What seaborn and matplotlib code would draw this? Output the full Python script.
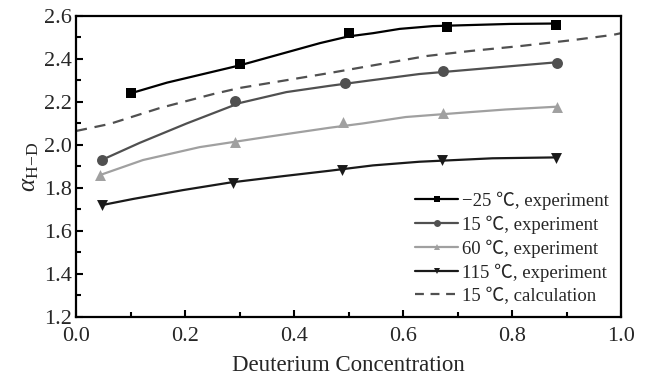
import matplotlib
matplotlib.use("Agg")
import matplotlib.pyplot as plt
from matplotlib.lines import Line2D
from matplotlib.ticker import MultipleLocator
import seaborn as sns
import pandas as pd

# experiment points (markers)
x_m25 = [0.10, 0.30, 0.50, 0.68, 0.88]
y_m25 = [2.24, 2.375, 2.52, 2.55, 2.56]
x_15 = [0.047, 0.292, 0.493, 0.674, 0.882]
y_15 = [1.93, 2.205, 2.29, 2.345, 2.38]
x_60 = [0.044, 0.292, 0.49, 0.673, 0.882]
y_60 = [1.86, 2.014, 2.105, 2.15, 2.178]
x_115 = [0.047, 0.288, 0.488, 0.672, 0.88]
y_115 = [1.72, 1.825, 1.885, 1.93, 1.94]

# fitted curves
cx_m25 = [0.10, 0.167, 0.30, 0.448, 0.50, 0.545, 0.594, 0.655, 0.796, 0.884]
cy_m25 = [2.24, 2.29, 2.37, 2.474, 2.505, 2.52, 2.54, 2.553, 2.563, 2.565]
cx_15 = [0.047, 0.117, 0.203, 0.30, 0.386, 0.465, 0.539, 0.63, 0.722, 0.814, 0.884]
cy_15 = [1.93, 2.01, 2.10, 2.195, 2.246, 2.275, 2.30, 2.33, 2.35, 2.37, 2.385]
cx_60 = [0.044, 0.123, 0.227, 0.349, 0.465, 0.526, 0.605, 0.708, 0.788, 0.882]
cy_60 = [1.86, 1.93, 1.99, 2.037, 2.08, 2.10, 2.13, 2.15, 2.165, 2.178]
cx_115 = [0.047, 0.105, 0.196, 0.282, 0.38, 0.465, 0.545, 0.63, 0.764, 0.877]
cy_115 = [1.72, 1.749, 1.79, 1.825, 1.855, 1.88, 1.905, 1.922, 1.938, 1.942]
cx_calc = [0.0, 0.062, 0.154, 0.252, 0.30, 0.466, 0.558, 0.644, 0.723, 0.815, 0.912, 0.985, 1.0]
cy_calc = [2.065, 2.098, 2.172, 2.237, 2.265, 2.335, 2.376, 2.414, 2.437, 2.46, 2.488, 2.512, 2.52]

labels = ["\u221225 \u2103, experiment", "15 \u2103, experiment", "60 \u2103, experiment",
          "115 \u2103, experiment", "15 \u2103, calculation"]
colors = ["#000000", "#505050", "#a0a0a0", "#1a1a1a", "#505050"]
markers = ["s", "o", "^", "v"]

sns.set_theme(style="ticks")
plt.rcParams['font.family'] = ['Liberation Serif', 'Noto Sans CJK SC', 'DejaVu Serif']
plt.rcParams['mathtext.fontset'] = 'custom'
plt.rcParams['mathtext.rm'] = 'Liberation Serif'
plt.rcParams['mathtext.it'] = 'Liberation Serif:italic'

fig = plt.figure(figsize=(6.53, 3.87), dpi=100)
ax = fig.add_axes([0.1164, 0.181, 0.8346, 0.7777])

curves = [(cx_m25, cy_m25), (cx_15, cy_15), (cx_60, cy_60), (cx_115, cy_115)]
points = [(x_m25, y_m25), (x_15, y_15), (x_60, y_60), (x_115, y_115)]
for (cx, cy), (px, py), c, m in zip(curves, points, colors, markers):
    sns.lineplot(x=cx, y=cy, ax=ax, color=c, lw=1.6, estimator=None, sort=False)
    sns.scatterplot(x=px, y=py, ax=ax, color=c, marker=m, s=62, edgecolor=c, linewidth=0, zorder=3)

sns.lineplot(x=cx_calc, y=cy_calc, ax=ax, color=colors[4], lw=1.6, estimator=None, sort=False)
ax.lines[-1].set_dashes([5, 3.5])

ax.set_xlim(0, 1.0)
ax.set_ylim(1.2, 2.6)
ax.xaxis.set_major_locator(MultipleLocator(0.2))
ax.xaxis.set_minor_locator(MultipleLocator(0.1))
ax.yaxis.set_major_locator(MultipleLocator(0.2))
ax.yaxis.set_minor_locator(MultipleLocator(0.1))
ax.tick_params(which='major', direction='in', length=5, width=1.5, labelsize=16, pad=3, color='black')
ax.tick_params(which='minor', direction='in', length=3.5, width=1.5, color='black')
ax.tick_params(axis='x', pad=7)
for s in ax.spines.values():
    s.set_linewidth(1.6)
    s.set_color('black')

ax.set_xlabel("Deuterium Concentration", fontsize=16.5, labelpad=7)
ax.set_ylabel(r"$\mathit{\alpha}_{\mathrm{H\!-\!D}}$", fontsize=18, labelpad=2)

handles = [Line2D([], [], color=colors[i], lw=1.6, marker=markers[i], markersize=5,
                  markeredgewidth=0) for i in range(4)]
handles.append(Line2D([], [], color=colors[4], lw=1.6, dashes=[4, 3]))
ax.legend(handles, labels, loc='lower right', frameon=False, fontsize=13.5,
          handlelength=2.3, handletextpad=0.2, labelspacing=0.3, borderaxespad=0.25)

fig.savefig("out.png", dpi=100)
